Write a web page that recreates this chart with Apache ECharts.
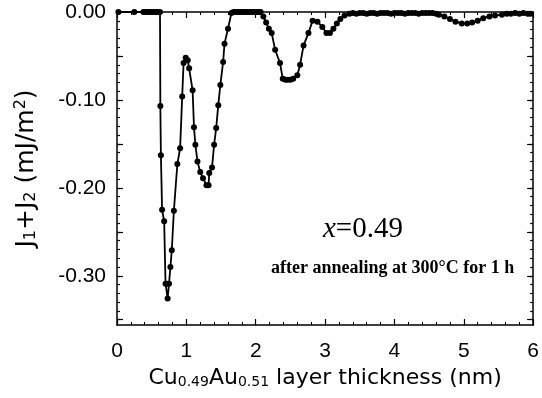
<!DOCTYPE html>
<html>
<head>
<meta charset="utf-8">
<script src="https://cdn.jsdelivr.net/npm/echarts@6/dist/echarts.min.js"></script>
<style>html,body{margin:0;padding:0;background:#fff}#c{width:542px;height:398px}</style>
</head>
<body>
<div id="c"></div>
<script>
// Thickness (nm)
const thickness = [
  0.02, 0.25, 0.38, 0.41, 0.44, 0.47, 0.50, 0.53, 0.56, 0.59, 0.62,
  0.625, 0.633, 0.65, 0.68, 0.70, 0.72, 0.73, 0.75, 0.77, 0.79, 0.82, 0.87, 0.91,
  0.94, 0.96, 0.99, 1.02, 1.04, 1.09, 1.11, 1.13, 1.16, 1.20, 1.24, 1.29, 1.32,
  1.33, 1.37, 1.40, 1.43, 1.46, 1.49, 1.53, 1.55, 1.60, 1.65,
  1.68, 1.71, 1.74, 1.77, 1.80, 1.83, 1.86, 1.89, 1.92, 1.95, 1.98, 2.01, 2.04, 2.07,
  2.11, 2.15, 2.19, 2.23, 2.28, 2.35, 2.39, 2.43, 2.46, 2.50, 2.54, 2.60, 2.64, 2.69,
  2.76, 2.82, 2.89, 2.96, 3.02, 3.07, 3.12, 3.17, 3.22, 3.28,
  3.35, 3.40, 3.45, 3.50, 3.55, 3.60, 3.65, 3.70, 3.75, 3.80, 3.85, 3.90, 3.95, 4.00,
  4.05, 4.10, 4.15, 4.20, 4.25, 4.30, 4.35, 4.40, 4.45, 4.50, 4.55, 4.60,
  4.64, 4.72, 4.80, 4.88, 4.97, 5.05, 5.12, 5.20, 5.28, 5.37, 5.45, 5.55,
  5.62, 5.68, 5.74, 5.80, 5.86, 5.92, 5.96
];
// J1+J2 (mJ/m^2)
const coupling = [
  0, 0, 0, 0, 0, 0, 0, 0, 0, 0, 0,
  -0.107, -0.163, -0.225, -0.238, -0.309, -0.309, -0.326, -0.309, -0.290, -0.271, -0.226, -0.173, -0.155,
  -0.096, -0.058, -0.052, -0.055, -0.064, -0.089, -0.131, -0.151, -0.170, -0.182, -0.189, -0.197, -0.197,
  -0.183, -0.177, -0.151, -0.132, -0.106, -0.083, -0.057, -0.036, -0.019, -0.001,
  0, 0, 0, 0, 0, 0, 0, 0, 0, 0, 0, 0, 0, 0,
  -0.005, -0.012, -0.019, -0.024, -0.043, -0.058, -0.076, -0.077, -0.077, -0.077, -0.076, -0.072, -0.060, -0.038,
  -0.024, -0.010, -0.011, -0.017, -0.024, -0.024, -0.019, -0.013, -0.008, -0.004,
  -0.002, -0.001, -0.002, -0.001, -0.001, -0.002, -0.001, -0.001, -0.002, -0.001, -0.001, -0.001, -0.002, -0.001,
  -0.001, -0.001, -0.002, -0.001, -0.001, -0.001, -0.002, -0.001, -0.001, -0.001, -0.001, -0.002,
  -0.003, -0.005, -0.008, -0.011, -0.013, -0.013, -0.012, -0.010, -0.007, -0.005, -0.004, -0.003,
  -0.002, -0.002, -0.001, -0.002, -0.001, -0.002, -0.002
];
const xTickLabels = [0, 1, 2, 3, 4, 5, 6];
const yTickLabels = [0, -0.1, -0.2, -0.3];
const yMajorTicks = [0, -0.05, -0.1, -0.15, -0.2, -0.25, -0.3, -0.35];

const X_MIN = 0, X_MAX = 6, Y_MIN = -0.356, Y_MAX = 0;
const yMinorTicks = [];
for (let i = 0; i <= 35; i++) yMinorTicks.push(-i / 100);

const chart = echarts.init(document.getElementById('c'), null, {renderer: 'canvas'});
const sans = 'Liberation Sans';
const titleFont = 'DejaVu Sans';
const lineStyle = {color: '#000', width: 1.5};

function yAx(pos, ticks, len, showLabel, showLine, name) {
  return {
    type: 'value', position: pos, min: Y_MIN, max: Y_MAX,
    axisLine: {show: showLine, onZero: false, lineStyle: lineStyle},
    axisTick: {show: true, inside: true, length: len, customValues: ticks, lineStyle: {color: '#000', width: 1.2}},
    axisLabel: showLabel ? {show: true, customValues: yTickLabels, formatter: v => v.toFixed(2), color: '#000', fontFamily: sans, fontSize: 21, margin: 11}
                         : {show: false},
    splitLine: {show: false},
    name: name || '',
    nameLocation: 'middle',
    nameGap: 78,
    nameRotate: 90,
    nameTextStyle: {
      color: '#000', fontFamily: titleFont, fontSize: 25,
      rich: {
        n: {fontFamily: titleFont, fontSize: 25, color: '#000'},
        sub: {fontFamily: titleFont, fontSize: 16, color: '#000', verticalAlign: 'bottom', padding: [10, 0, 0, 0]},
        sup: {fontFamily: titleFont, fontSize: 16, color: '#000', verticalAlign: 'top', padding: [0, 0, 10, 0]}
      }
    }
  };
}

function xAx(pos, showLabel, name) {
  return {
    type: 'value', position: pos, min: X_MIN, max: X_MAX, interval: 1,
    axisLine: {show: true, onZero: false, lineStyle: lineStyle},
    axisTick: {show: true, inside: true, length: 6, lineStyle: {color: '#000', width: 1.2}},
    minorTick: {show: true, splitNumber: 5, length: 3, lineStyle: {color: '#000', width: 1}},
    axisLabel: showLabel ? {show: true, customValues: xTickLabels, color: '#000', fontFamily: sans, fontSize: 21, margin: 16}
                         : {show: false},
    splitLine: {show: false},
    name: name || '',
    nameLocation: 'middle',
    nameGap: 38,
    nameTextStyle: {
      color: '#000', fontFamily: titleFont, fontSize: 22,
      rich: {
        n: {fontFamily: titleFont, fontSize: 22, color: '#000'},
        sub: {fontFamily: titleFont, fontSize: 14, color: '#000', verticalAlign: 'bottom', padding: [9, 0, 0, 0]}
      }
    }
  };
}

chart.setOption({
  animation: false,
  backgroundColor: '#fff',
  grid: {left: 117, right: 4, top: 12, bottom: 73, containLabel: false},
  xAxis: [
    xAx('bottom', true, '{n|Cu}{sub|0.49}{n|Au}{sub|0.51}{n| layer thickness (nm)}'),
    xAx('top', false)
  ],
  yAxis: [
    yAx('left', yMajorTicks, 6, true, true, '{n|J}{sub|1}{n|+J}{sub|2}{n| (mJ/m}{sup|2}{n|)}'),
    yAx('right', yMajorTicks, 6, false, true),
    yAx('left', yMinorTicks, 3, false, false),
    yAx('right', yMinorTicks, 3, false, false)
  ],
  series: [{
    type: 'line',
    xAxisIndex: 0, yAxisIndex: 0,
    data: thickness.map((t, i) => [t, coupling[i]]),
    symbol: 'circle', symbolSize: 6,
    itemStyle: {color: '#000'},
    lineStyle: {color: '#000', width: 1.8},
    clip: false
  }],
  graphic: [
    {
      type: 'text', left: 323, top: 215,
      style: {
        text: '{i|x}{n|=0.49}',
        rich: {
          i: {fontFamily: 'Liberation Serif', fontStyle: 'italic', fontSize: 29, fill: '#000'},
          n: {fontFamily: 'Liberation Serif', fontSize: 29, fill: '#000'}
        }
      }
    },
    {
      type: 'text', left: 271, top: 259,
      style: {text: 'after annealing at 300\u00B0C for 1 h', fontFamily: 'Liberation Serif', fontWeight: 'bold', fontSize: 18, fill: '#000'}
    }
  ]
});
</script>
</body>
</html>
